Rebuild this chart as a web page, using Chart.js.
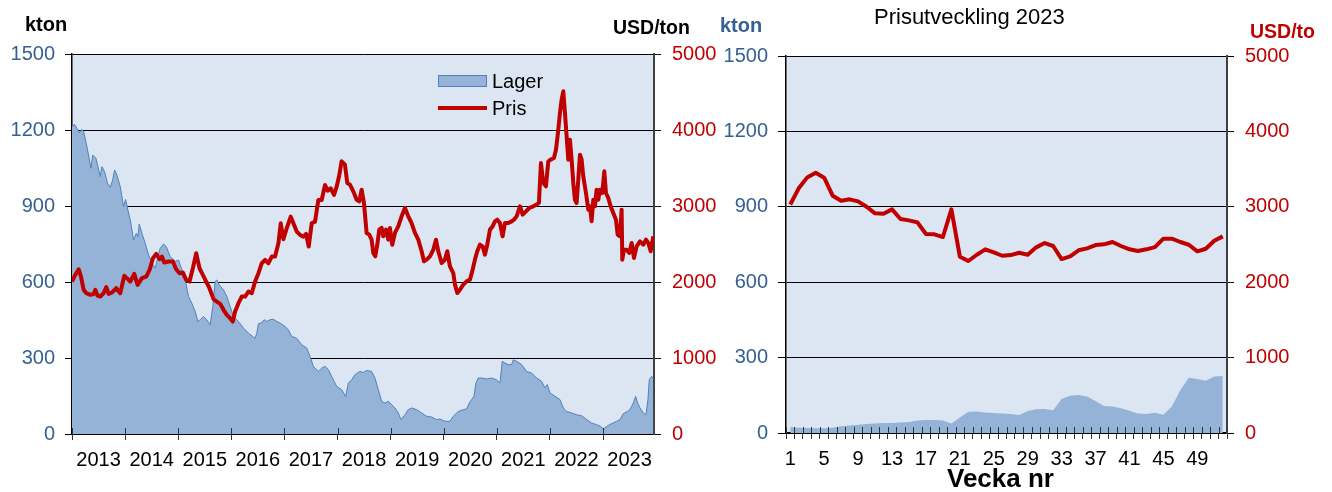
<!DOCTYPE html>
<html><head><meta charset="utf-8">
<script src="https://cdn.jsdelivr.net/npm/chart.js@4.4.1/dist/chart.umd.min.js"></script>
<style>
html,body{margin:0;padding:0;background:#fff;width:1332px;height:492px;overflow:hidden;font-family:"Liberation Sans",Arial,sans-serif;}
#w1{position:absolute;left:0;top:0;width:720px;height:492px;}
#w2{position:absolute;left:720px;top:0;width:612px;height:492px;}
.t{position:absolute;white-space:nowrap;line-height:1;}
</style></head><body>
<div id="w1"><canvas id="c1"></canvas></div>
<div id="w2"><canvas id="c2"></canvas></div>
<div class="t" style="left:25px;top:14px;font-size:20px;font-weight:bold;color:#000;">kton</div>
<div class="t" style="left:613px;top:18px;font-size:19.5px;font-weight:bold;color:#000;">USD/ton</div>
<div class="t" style="left:720px;top:15px;font-size:20px;font-weight:bold;color:#376092;">kton</div>
<div class="t" style="left:874px;top:6px;font-size:22px;color:#000;">Prisutveckling 2023</div>
<div class="t" style="left:1250px;top:22px;font-size:19.5px;font-weight:bold;color:#C00000;">USD/to</div>
<div class="t" style="left:947px;top:465px;font-size:26px;font-weight:bold;color:#000;">Vecka nr</div>
<div style="position:absolute;left:438px;top:75px;width:47px;height:10px;background:#95B3D7;border:1px solid #4F81BD;"></div>
<div class="t" style="left:492px;top:71px;font-size:20px;color:#000;">Lager</div>
<div style="position:absolute;left:438px;top:106px;width:49px;height:4px;background:#C00000;"></div>
<div class="t" style="left:492px;top:98px;font-size:20px;color:#000;">Pris</div>
<script>
// ---- Left chart data (weekly series read at irregular dates, decimal years) ----
const lagerYears = [2013.000,2013.044,2013.094,2013.138,2013.188,2013.219,2013.282,2013.357,2013.389,2013.451,2013.489,2013.533,2013.564,2013.614,2013.671,2013.721,2013.765,2013.803,2013.846,2013.909,2013.972,2014.009,2014.053,2014.097,2014.160,2014.210,2014.241,2014.266,2014.317,2014.379,2014.442,2014.505,2014.567,2014.618,2014.661,2014.724,2014.774,2014.850,2014.944,2015.006,2015.069,2015.132,2015.194,2015.257,2015.320,2015.370,2015.414,2015.476,2015.539,2015.602,2015.652,2015.696,2015.727,2015.771,2015.853,2015.915,2015.978,2016.041,2016.135,2016.229,2016.323,2016.404,2016.448,2016.480,2016.511,2016.574,2016.618,2016.668,2016.730,2016.793,2016.856,2016.918,2017.013,2017.075,2017.138,2017.232,2017.326,2017.420,2017.483,2017.545,2017.639,2017.702,2017.765,2017.828,2017.890,2017.984,2018.078,2018.154,2018.204,2018.266,2018.329,2018.422,2018.485,2018.548,2018.642,2018.705,2018.768,2018.831,2018.893,2018.956,2019.019,2019.082,2019.144,2019.195,2019.270,2019.333,2019.395,2019.490,2019.584,2019.678,2019.772,2019.866,2019.929,2020.023,2020.117,2020.180,2020.274,2020.368,2020.431,2020.481,2020.525,2020.569,2020.607,2020.651,2020.714,2020.808,2020.902,2020.996,2021.059,2021.103,2021.153,2021.216,2021.279,2021.310,2021.373,2021.467,2021.561,2021.655,2021.750,2021.844,2021.906,2021.950,2022.001,2022.095,2022.189,2022.252,2022.315,2022.409,2022.503,2022.597,2022.691,2022.785,2022.879,2022.955,2023.005,2023.068,2023.162,2023.256,2023.319,2023.381,2023.457,2023.507,2023.570,2023.614,2023.652,2023.696,2023.758,2023.809,2023.846,2023.871,2023.915,2023.946];
const lagerKton = [1213,1223,1206,1190,1202,1193,1134,1049,1101,1088,1055,1016,1055,1035,989,974,1002,1042,1022,976,897,926,884,845,766,792,779,829,792,753,707,674,654,700,733,750,740,700,681,687,648,608,543,516,484,444,451,464,451,431,503,602,608,589,569,543,503,464,444,418,398,385,378,398,435,440,451,444,451,453,444,438,424,411,385,378,352,339,306,267,247,260,267,254,227,188,175,148,201,214,234,247,243,251,247,221,175,129,122,129,116,103,83,57,76,96,103,96,83,70,67,57,59,50,50,70,89,96,99,122,136,149,201,221,221,217,221,214,201,287,280,274,274,293,287,274,247,241,221,208,182,195,162,149,136,103,89,83,76,72,57,43,37,30,20,30,41,50,57,80,89,96,122,149,122,103,83,76,136,214,228,221];
const prisYears = [2013.000,2013.044,2013.125,2013.169,2013.219,2013.270,2013.345,2013.408,2013.439,2013.483,2013.533,2013.596,2013.646,2013.690,2013.752,2013.834,2013.909,2013.984,2014.034,2014.097,2014.172,2014.235,2014.317,2014.398,2014.461,2014.524,2014.586,2014.649,2014.693,2014.737,2014.818,2014.900,2014.962,2015.025,2015.088,2015.150,2015.213,2015.276,2015.339,2015.401,2015.464,2015.527,2015.589,2015.665,2015.727,2015.790,2015.853,2015.915,2015.978,2016.028,2016.072,2016.135,2016.197,2016.260,2016.323,2016.386,2016.448,2016.511,2016.574,2016.636,2016.699,2016.762,2016.824,2016.887,2016.931,2016.981,2017.044,2017.119,2017.169,2017.232,2017.295,2017.357,2017.408,2017.458,2017.514,2017.577,2017.639,2017.702,2017.765,2017.815,2017.871,2017.934,2017.984,2018.034,2018.077,2018.140,2018.184,2018.234,2018.297,2018.360,2018.410,2018.454,2018.498,2018.548,2018.598,2018.642,2018.674,2018.711,2018.749,2018.787,2018.831,2018.862,2018.912,2018.956,2018.987,2019.031,2019.082,2019.144,2019.207,2019.270,2019.333,2019.395,2019.458,2019.521,2019.584,2019.628,2019.678,2019.741,2019.804,2019.854,2019.898,2019.960,2020.023,2020.067,2020.117,2020.180,2020.212,2020.256,2020.306,2020.368,2020.431,2020.494,2020.544,2020.588,2020.632,2020.682,2020.733,2020.777,2020.820,2020.871,2020.921,2020.965,2021.009,2021.059,2021.109,2021.153,2021.216,2021.279,2021.323,2021.373,2021.436,2021.486,2021.549,2021.611,2021.687,2021.750,2021.793,2021.831,2021.875,2021.925,2021.969,2022.013,2022.076,2022.114,2022.151,2022.189,2022.220,2022.252,2022.283,2022.315,2022.346,2022.377,2022.409,2022.440,2022.471,2022.503,2022.534,2022.566,2022.597,2022.628,2022.679,2022.723,2022.754,2022.785,2022.817,2022.848,2022.879,2022.911,2022.942,2022.986,2023.024,2023.055,2023.099,2023.143,2023.193,2023.244,2023.275,2023.319,2023.350,2023.363,2023.394,2023.444,2023.495,2023.539,2023.583,2023.633,2023.696,2023.758,2023.809,2023.853,2023.897,2023.947];
const prisUsd = [2006,2072,2168,2072,1897,1853,1831,1840,1897,1818,1809,1853,1932,1844,1862,1918,1853,2081,2050,2006,2107,1962,2050,2072,2159,2313,2370,2300,2335,2256,2269,2269,2168,2116,2124,2028,2006,2181,2378,2181,2094,2006,1918,1774,1743,1713,1634,1568,1524,1480,1612,1721,1809,1809,1875,1853,2006,2116,2247,2291,2247,2335,2335,2510,2773,2563,2707,2860,2773,2663,2619,2597,2632,2466,2773,2794,3079,3079,3276,3202,3233,3145,3254,3408,3588,3544,3303,3281,3193,3083,3061,3215,3040,2645,2623,2557,2382,2338,2491,2689,2711,2601,2689,2557,2711,2491,2645,2732,2864,2974,2864,2776,2645,2557,2404,2272,2294,2338,2425,2557,2404,2250,2294,2404,2206,2118,1965,1855,1899,1965,2009,2031,2162,2294,2404,2491,2469,2360,2491,2689,2732,2798,2820,2776,2601,2776,2776,2798,2820,2864,2996,2886,2930,2974,2996,3018,3040,3566,3303,3259,3588,3610,3632,3741,3961,4224,4399,4509,4224,3917,3610,3873,3610,3303,3083,3040,3347,3675,3610,3390,3171,2952,2996,2798,3083,2996,3215,3083,3215,3171,3456,3171,3105,2996,2908,2820,2623,2601,2952,2294,2425,2425,2382,2513,2316,2469,2535,2491,2557,2513,2404,2601];
const yearLabels = [2013,2014,2015,2016,2017,2018,2019,2020,2021,2022,2023];
// ---- Right chart data (2023, weekly) ----
const weeks = [1,2,3,4,5,6,7,8,9,10,11,12,13,14,15,16,17,18,19,20,21,22,23,24,25,26,27,28,29,30,31,32,33,34,35,36,37,38,39,40,41,42,43,44,45,46,47,48,49,50,51,52];
const weekLager = [24,21,20,19,19,21,27,30,33,36,38,40,40,42,44,50,52,52,50,38,62,85,86,82,80,78,76,72,88,94,95,91,135,148,151,145,127,107,105,98,89,78,76,81,73,105,171,220,215,208,225,227];
const weekPris = [3030,3245,3390,3452,3386,3147,3081,3099,3072,3001,2913,2908,2966,2838,2820,2794,2639,2635,2599,2966,2338,2281,2364,2436,2396,2351,2360,2391,2364,2462,2519,2480,2307,2343,2423,2449,2493,2502,2533,2480,2436,2413,2436,2466,2577,2577,2533,2497,2409,2444,2550,2608];
const ktonTicks = [0,300,600,900,1200,1500];
const usdTicks = [0,1000,2000,3000,4000,5000];

const FONT = "'Liberation Sans', Arial, sans-serif";
Chart.defaults.font.family = FONT;
Chart.defaults.font.size = 20;
const BLUE_TXT = '#376092', RED = '#C00000', BG = '#DCE6F2', FILL = '#95B3D7', EDGE = '#4F81BD';
const plain = v => String(v);

const bgPlugin = {id:'bg', beforeDraw(c){const a=c.chartArea, x=c.ctx; x.save(); x.fillStyle=BG; x.fillRect(a.left,a.top,a.right-a.left,a.bottom-a.top); x.restore();}};
function innerTicks(positionsFn){
  return {id:'innerTicks', afterDraw(c){const s=c.scales.x, x=c.ctx; x.save(); x.strokeStyle='#333'; x.lineWidth=1; x.beginPath();
    positionsFn(s).forEach(p=>{const px=Math.round(p)+0.5; x.moveTo(px,s.top-6); x.lineTo(px,s.top);}); x.stroke(); x.restore();}};
}

new Chart(document.getElementById('c1'), {
  type:'line',
  data:{datasets:[
    {label:'Lager', data: lagerYears.map((v,i)=>({x:v,y:lagerKton[i]})), yAxisID:'yK', fill:'origin',
     backgroundColor:FILL, borderColor:EDGE, borderWidth:1, pointRadius:0, tension:0, order:2},
    {label:'Pris', data: prisYears.map((v,i)=>({x:v,y:prisUsd[i]})), yAxisID:'yU', fill:false,
     borderColor:RED, borderWidth:4, pointRadius:0, tension:0, borderJoinStyle:'round', order:1}
  ]},
  options:{
    responsive:true, maintainAspectRatio:false, animation:false,
    layout:{padding:{top:54,left:0,right:0,bottom:0}},
    plugins:{legend:{display:false}, tooltip:{enabled:false}},
    scales:{
      x:{type:'linear', min:yearLabels[0], max:2023.96,
        afterBuildTicks:s=>{const t=[]; yearLabels.forEach(y=>{t.push({value:y}); t.push({value:y+0.5});}); s.ticks=t;},
        ticks:{autoSkip:false, maxRotation:0, color:'#000', padding:8,
          callback:v=> Number.isInteger(v) ? '' : String(Math.floor(v))},
        grid:{drawOnChartArea:false, tickLength:6, tickColor:ctx=> (ctx.tick && Number.isInteger(ctx.tick.value)) ? '#333' : 'rgba(0,0,0,0)'},
        border:{color:'#000', width:1},
        afterFit:s=>{s.height=58;}},
      yK:{position:'left', min:0, max:1500,
        afterBuildTicks:s=>{s.ticks=ktonTicks.map(v=>({value:v}));},
        ticks:{color:BLUE_TXT, padding:10, callback:plain},
        grid:{color:'#000', lineWidth:1, tickLength:7},
        border:{color:'#000', width:1.5},
        afterFit:s=>{s.width=72;}},
      yU:{position:'right', min:0, max:5000,
        afterBuildTicks:s=>{s.ticks=usdTicks.map(v=>({value:v}));},
        ticks:{color:RED, padding:11, callback:plain},
        grid:{drawOnChartArea:false, color:'#000', tickLength:7},
        border:{color:'#404040', width:2},
        afterFit:s=>{s.width=66;}}
    }
  },
  plugins:[bgPlugin, innerTicks(s=>yearLabels.map(y=>s.getPixelForValue(y)))]
});

new Chart(document.getElementById('c2'), {
  type:'line',
  data:{labels:weeks.map(String), datasets:[
    {label:'Lager', data:weekLager, yAxisID:'yK', fill:'origin', backgroundColor:FILL, borderWidth:0, borderColor:FILL, pointRadius:0, tension:0, order:2},
    {label:'Pris', data:weekPris, yAxisID:'yU', fill:false, borderColor:RED, borderWidth:4, pointRadius:0, tension:0, borderJoinStyle:'round', order:1}
  ]},
  options:{
    responsive:true, maintainAspectRatio:false, animation:false,
    layout:{padding:{top:56,left:0,right:0,bottom:0}},
    plugins:{legend:{display:false}, tooltip:{enabled:false}},
    scales:{
      x:{type:'category', offset:true,
        ticks:{autoSkip:false, maxRotation:0, color:'#000', padding:8,
          callback:function(v,i){return i%4===0 ? this.getLabelForValue(v) : '';}},
        grid:{drawOnChartArea:false, offset:true, tickLength:6, color:'#333'},
        border:{color:'#000', width:1.5},
        afterFit:s=>{s.height=59;}},
      yK:{position:'left', min:0, max:1500,
        afterBuildTicks:s=>{s.ticks=ktonTicks.map(v=>({value:v}));},
        ticks:{color:BLUE_TXT, padding:10, callback:plain},
        grid:{color:'#000', lineWidth:1, tickLength:8},
        border:{color:'#000', width:1.5},
        afterFit:s=>{s.width=66;}},
      yU:{position:'right', min:0, max:5000,
        afterBuildTicks:s=>{s.ticks=usdTicks.map(v=>({value:v}));},
        ticks:{color:RED, padding:11, callback:plain},
        grid:{drawOnChartArea:false, color:'#000', tickLength:7},
        border:{color:'#404040', width:2},
        afterFit:s=>{s.width=105;}}
    }
  },
  plugins:[bgPlugin, innerTicks(s=>{const p=[]; for(let i=0;i<=weeks.length;i++) p.push(s.getPixelForValue(i-0.5)); return p;})]
});
</script>
</body></html>
